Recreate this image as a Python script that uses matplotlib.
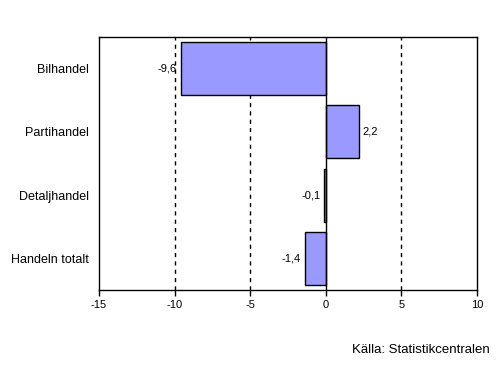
import matplotlib
matplotlib.use("Agg")
import matplotlib.pyplot as plt

plt.rcParams['font.family'] = ['Liberation Sans', 'DejaVu Sans']

categories = ["Bilhandel", "Partihandel", "Detaljhandel", "Handeln totalt"]
values = [-9.6, 2.2, -0.1, -1.4]
xticks = [-15, -10, -5, 0, 5, 10]

fig = plt.figure(figsize=(5.03, 3.70), dpi=100)
ax = fig.add_axes([99 / 503, 1 - 290 / 370, 378 / 503, 253 / 370])

pos = list(range(len(categories)))
ax.barh(pos, values, height=0.84, color="#9999FF", edgecolor="black", linewidth=1.0, zorder=3)
ax.set_ylim(len(categories) - 0.5, -0.5)
ax.set_xlim(-15, 10)

for g in [-10, -5, 5]:
    ax.axvline(g, color="black", linestyle=(0, (3, 3)), linewidth=1.0, zorder=1)
ax.axvline(0, color="black", linewidth=1.0, zorder=4)

for p, v in zip(pos, values):
    txt = ("%.1f" % v).replace(".", ",")
    if v < 0:
        ax.text(v - 0.25, p, txt, ha="right", va="center", fontsize=8, zorder=5)
    else:
        ax.text(v + 0.25, p, txt, ha="left", va="center", fontsize=8, zorder=5)

ax.set_yticks(pos)
ax.set_yticklabels(categories, fontsize=9)
ax.tick_params(axis="y", length=0, pad=7)
ax.set_xticks(xticks)
ax.set_xticklabels([str(t) for t in xticks], fontsize=8)
ax.tick_params(axis="x", length=4, direction="out", width=1, pad=3)
for s in ax.spines.values():
    s.set_linewidth(1.0)

fig.text(490 / 503, 1 - 350 / 370, "Källa: Statistikcentralen", ha="right", va="center", fontsize=9.5)

fig.savefig("out.png", dpi=100)
